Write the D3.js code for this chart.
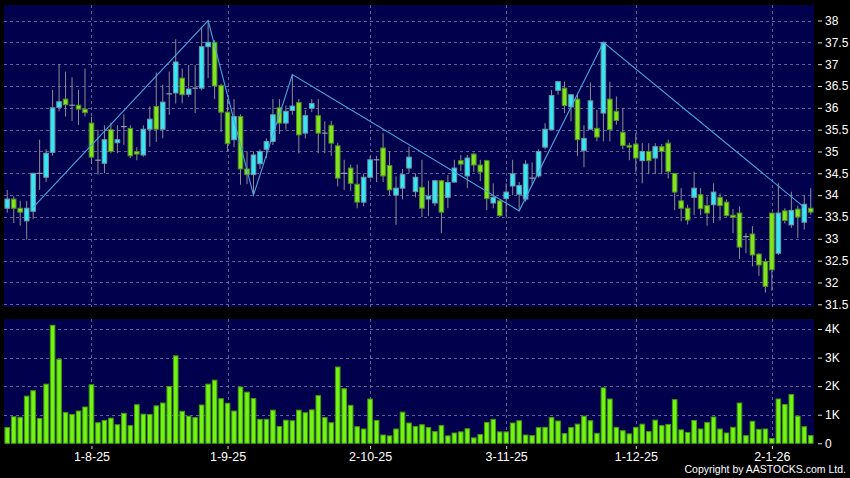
<!DOCTYPE html>
<html>
<head>
<meta charset="utf-8">
<script src="https://cdn.jsdelivr.net/npm/d3@7"></script>
<style>
body { margin: 0; background: #000; }
svg { display: block; font-family: "Liberation Sans", Arial, sans-serif; }
</style>
</head>
<body>
<svg id="chart" width="850" height="478"></svg>
<script>
// daily prices, one entry per trading day
var openP = [33.70,33.91,33.70,33.41,33.63,34.50,34.41,34.98,36.01,36.20,36.06,36.06,35.97,35.65,34.80,34.73,35.50,35.20,35.57,35.53,
  35.00,34.92,35.51,36.03,35.51,36.32,36.34,36.68,36.31,36.45,36.45,37.40,37.50,36.51,35.90,35.27,35.80,34.60,34.47,34.72,
  35.05,35.23,36.00,35.65,35.94,36.12,35.42,35.99,35.82,35.42,35.60,35.13,34.50,34.62,34.25,33.84,34.41,34.81,35.08,34.68,
  34.00,34.16,34.62,34.08,34.18,33.91,33.82,34.33,33.95,34.30,34.79,34.44,34.94,34.69,34.79,33.82,33.87,33.92,34.21,34.02,
  33.91,34.39,34.44,35.10,35.50,36.40,36.45,36.02,36.20,35.02,35.51,35.53,35.88,36.20,35.92,35.44,35.14,35.17,34.79,35.00,
  34.85,35.11,35.19,34.50,33.87,33.70,33.95,34.01,33.76,33.78,33.95,33.84,33.54,33.59,33.05,33.11,32.65,32.48,33.59,32.67,
  33.64,33.32,33.68,33.38,33.70];
var highP = [34.12,33.97,33.87,33.87,34.50,35.27,35.05,36.41,37.00,36.83,36.70,36.41,36.90,35.80,35.50,35.60,35.66,35.60,35.85,35.60,
  35.10,35.60,36.03,36.81,36.53,36.83,37.57,36.90,36.98,36.98,37.86,38.00,37.55,36.55,36.20,36.20,35.85,35.00,35.00,35.05,
  35.30,36.20,36.20,36.05,36.76,36.20,35.95,36.20,36.20,35.69,35.70,35.20,34.81,34.70,34.70,34.50,34.90,34.90,35.42,35.00,
  34.43,34.60,35.11,34.50,34.81,34.33,34.35,34.35,34.46,34.81,34.92,34.92,34.97,34.81,34.81,34.27,33.88,34.27,34.81,34.30,
  34.80,34.75,35.05,35.65,36.41,36.60,36.60,36.30,36.30,35.60,36.58,35.95,37.50,36.60,36.26,36.00,35.20,35.42,35.19,35.19,
  35.19,35.17,35.27,34.50,34.16,33.78,34.54,34.16,33.97,34.27,34.04,33.90,33.68,33.74,33.13,33.29,32.67,32.55,33.59,34.27,
  33.70,34.08,33.76,34.00,34.16];
var lowP = [33.60,33.36,33.30,32.98,33.45,34.12,34.30,34.90,35.92,35.80,35.70,35.61,35.80,34.72,34.47,34.50,34.96,34.96,35.15,34.85,
  34.80,34.88,35.11,35.22,35.30,35.84,36.10,36.10,36.25,35.88,36.40,36.68,36.20,35.45,35.00,35.10,34.24,34.25,34.00,34.60,
  34.85,35.15,35.40,35.50,35.84,34.96,35.30,35.90,34.96,34.96,34.90,34.20,34.12,34.10,33.70,33.75,34.38,34.30,34.30,34.00,
  33.32,33.90,34.50,33.95,33.50,33.52,33.75,33.13,33.70,34.28,34.55,34.16,34.53,34.32,33.66,33.70,33.50,33.51,34.00,33.64,
  33.85,34.24,34.40,35.05,35.50,36.30,35.88,35.69,34.90,34.64,35.50,35.23,35.23,35.23,35.61,35.05,34.80,34.52,34.27,34.48,
  34.48,34.48,34.38,33.66,33.40,33.33,33.54,33.54,33.30,33.36,33.42,33.51,33.13,32.54,32.67,32.37,32.15,31.77,31.81,32.63,
  33.35,33.25,33.02,33.21,33.55];
var closeP = [33.91,33.70,33.61,33.70,34.50,34.50,34.96,36.00,36.14,36.07,36.06,35.97,35.89,34.87,34.80,35.27,35.00,35.27,35.57,34.90,
  34.94,35.51,35.74,35.51,36.13,36.32,37.05,36.30,36.43,36.45,37.40,37.50,36.50,35.90,35.18,35.80,34.60,34.47,34.92,35.00,
  35.23,35.84,35.65,35.92,36.04,35.38,35.82,36.10,35.42,35.42,35.19,34.39,34.50,34.27,33.84,34.41,34.81,34.81,34.44,34.12,
  34.16,34.47,34.87,34.41,33.70,33.98,34.33,33.61,34.29,34.62,34.71,34.85,34.69,34.53,33.92,33.95,33.53,34.07,34.49,34.22,
  34.71,34.39,35.00,35.51,36.28,36.60,36.05,36.30,35.27,35.30,36.16,35.33,37.50,35.50,35.71,35.14,35.10,34.85,35.00,34.79,
  35.11,35.00,34.54,34.07,33.70,33.43,34.16,33.69,33.59,34.07,33.76,33.53,33.49,32.81,33.05,32.63,32.40,31.91,32.29,33.59,
  33.42,33.65,33.50,33.79,33.61];
var volume = [550,930,910,1650,1840,870,2070,4130,2940,1080,1010,1130,1270,2050,720,800,880,650,1050,620,
  1350,1020,1010,1310,1410,1990,3060,1120,950,900,1340,2070,2210,1560,1400,1130,1970,1790,1570,840,
  840,1160,590,810,790,1160,1070,1170,1670,900,720,2670,1910,1330,580,500,1550,800,290,260,
  500,1090,710,590,650,550,410,620,260,360,400,510,190,310,730,840,400,400,710,790,
  290,270,550,560,900,780,340,550,670,950,790,350,1940,1550,560,440,330,560,670,410,
  810,620,660,1530,470,380,800,500,730,920,500,360,560,1410,270,770,490,500,170,1550,
  1360,1710,950,580,270];

// turning points of the zigzag line (day index, price)
var zigIdx = [4, 31, 38, 44, 79, 92, 123];
var zigVal = [33.72, 38.00, 34.00, 36.76, 33.64, 37.50, 33.72];

// month labels (day index of first trading day)
var dateIdx = [13, 34, 56, 77, 97, 118];
var dateLabels = ["1-8-25", "1-9-25", "2-10-25", "3-11-25", "1-12-25", "2-1-26"];

var priceTicks = [31.5, 32, 32.5, 33, 33.5, 34, 34.5, 35, 35.5, 36, 36.5, 37, 37.5, 38];
var volTicks = [0, 1000, 2000, 3000, 4000];

var svg = d3.select("#chart");
var left = 4, right = 814;
var mainTop = 5, mainBot = 307, volTop = 319, volBot = 443.5;

var x = d3.scaleLinear().domain([-0.5, openP.length - 0.5]).range([left, right]);
var y = d3.scaleLinear().domain([31.5, 38]).range([304.3, 20.5]);
var yv = d3.scaleLinear().domain([0, 4000]).range([443.3, 329]);

var days = d3.range(openP.length).map(function(i) {
  return {i: i, o: openP[i], h: highP[i], l: lowP[i], c: closeP[i], v: volume[i]};
});

// panels
svg.append("rect").attr("x", left).attr("y", mainTop).attr("width", right - left).attr("height", mainBot - mainTop).attr("fill", "#00004c");
svg.append("rect").attr("x", left).attr("y", volTop).attr("width", right - left).attr("height", volBot - volTop).attr("fill", "#00004c");

var gridColor = "#5b5f9c";
// horizontal grid
svg.append("g").selectAll("line").data(priceTicks).enter().append("line")
    .attr("x1", left).attr("x2", right)
    .attr("y1", function(d) { return Math.round(y(d)) + 0.5; })
    .attr("y2", function(d) { return Math.round(y(d)) + 0.5; })
    .attr("stroke", gridColor).attr("stroke-dasharray", "3,3");
svg.append("g").selectAll("line").data(volTicks.slice(1)).enter().append("line")
    .attr("x1", left).attr("x2", right)
    .attr("y1", function(d) { return Math.round(yv(d)) + 0.5; })
    .attr("y2", function(d) { return Math.round(yv(d)) + 0.5; })
    .attr("stroke", gridColor).attr("stroke-dasharray", "3,3");
// vertical grid, both panels
[[mainTop, mainBot], [volTop, volBot]].forEach(function(p) {
  svg.append("g").selectAll("line").data(dateIdx).enter().append("line")
      .attr("x1", function(d) { return Math.round(x(d)) + 0.5; })
      .attr("x2", function(d) { return Math.round(x(d)) + 0.5; })
      .attr("y1", p[0]).attr("y2", p[1])
      .attr("stroke", gridColor).attr("stroke-dasharray", "3,3");
});

// candles
var bw = 4.6;
var candles = svg.append("g");
candles.selectAll("line.wick").data(days).enter().append("line")
    .attr("class", "wick")
    .attr("x1", function(d) { return x(d.i); })
    .attr("x2", function(d) { return x(d.i); })
    .attr("y1", function(d) { return y(d.h); })
    .attr("y2", function(d) { return y(d.l); })
    .attr("stroke", "#8e8e8e").attr("stroke-width", 1);
candles.selectAll("rect").data(days.filter(function(d) { return d.o !== d.c; })).enter().append("rect")
    .attr("x", function(d) { return x(d.i) - bw / 2; })
    .attr("width", bw)
    .attr("y", function(d) { return y(Math.max(d.o, d.c)); })
    .attr("height", function(d) { return Math.max(1, Math.abs(y(d.o) - y(d.c))); })
    .attr("fill", function(d) { return d.c > d.o ? "#33e8f2" : "#84e41c"; })
    .attr("stroke", function(d) { return d.c > d.o ? "#6f97aa" : "#4f8f2a"; })
    .attr("stroke-width", 1);
candles.selectAll("line.doji").data(days.filter(function(d) { return d.o === d.c; })).enter().append("line")
    .attr("class", "doji")
    .attr("x1", function(d) { return x(d.i) - bw / 2 - 0.5; })
    .attr("x2", function(d) { return x(d.i) + bw / 2 + 0.5; })
    .attr("y1", function(d) { return y(d.c); })
    .attr("y2", function(d) { return y(d.c); })
    .attr("stroke", "#8fa2b8").attr("stroke-width", 1.2);

// zigzag
var zig = zigIdx.map(function(d, k) { return [d, zigVal[k]]; });
svg.append("path")
    .attr("d", d3.line().x(function(d) { return x(d[0]); }).y(function(d) { return y(d[1]); })(zig))
    .attr("fill", "none").attr("stroke", "#4aa6e2").attr("stroke-width", 1.1);

// volume bars
svg.append("g").selectAll("rect").data(days).enter().append("rect")
    .attr("x", function(d) { return x(d.i) - bw / 2; })
    .attr("width", bw)
    .attr("y", function(d) { return yv(d.v); })
    .attr("height", function(d) { return yv(0) - yv(d.v); })
    .attr("fill", "#74f212").attr("stroke", "#3f9a12").attr("stroke-width", 1);

// axes
function styleAxis(g, size) {
  g.select(".domain").remove();
  g.selectAll("line").attr("stroke", "#dddddd");
  g.selectAll("text").attr("fill", "#ffffff").style("font-size", size + "px");
}
var ga = svg.append("g").attr("transform", "translate(818,0)")
    .call(d3.axisRight(y).tickValues(priceTicks).tickSize(4).tickPadding(3).tickFormat(d3.format("~g")));
styleAxis(ga, 12);
var gv = svg.append("g").attr("transform", "translate(818,0)")
    .call(d3.axisRight(yv).tickValues(volTicks).tickSize(4).tickPadding(3)
      .tickFormat(function(d) { return d === 0 ? "0" : (d / 1000) + "K"; }));
styleAxis(gv, 12);
var gx = svg.append("g").attr("transform", "translate(0,446)")
    .call(d3.axisBottom(x).tickValues(dateIdx).tickSize(3).tickPadding(3)
      .tickFormat(function(d, k) { return dateLabels[k]; }));
styleAxis(gx, 12.5);

svg.append("text")
    .attr("x", 846).attr("y", 473).attr("text-anchor", "end")
    .attr("fill", "#ffffff").style("font-size", "10.5px")
    .text("Copyright by AASTOCKS.com Ltd.");
</script>
</body>
</html>
